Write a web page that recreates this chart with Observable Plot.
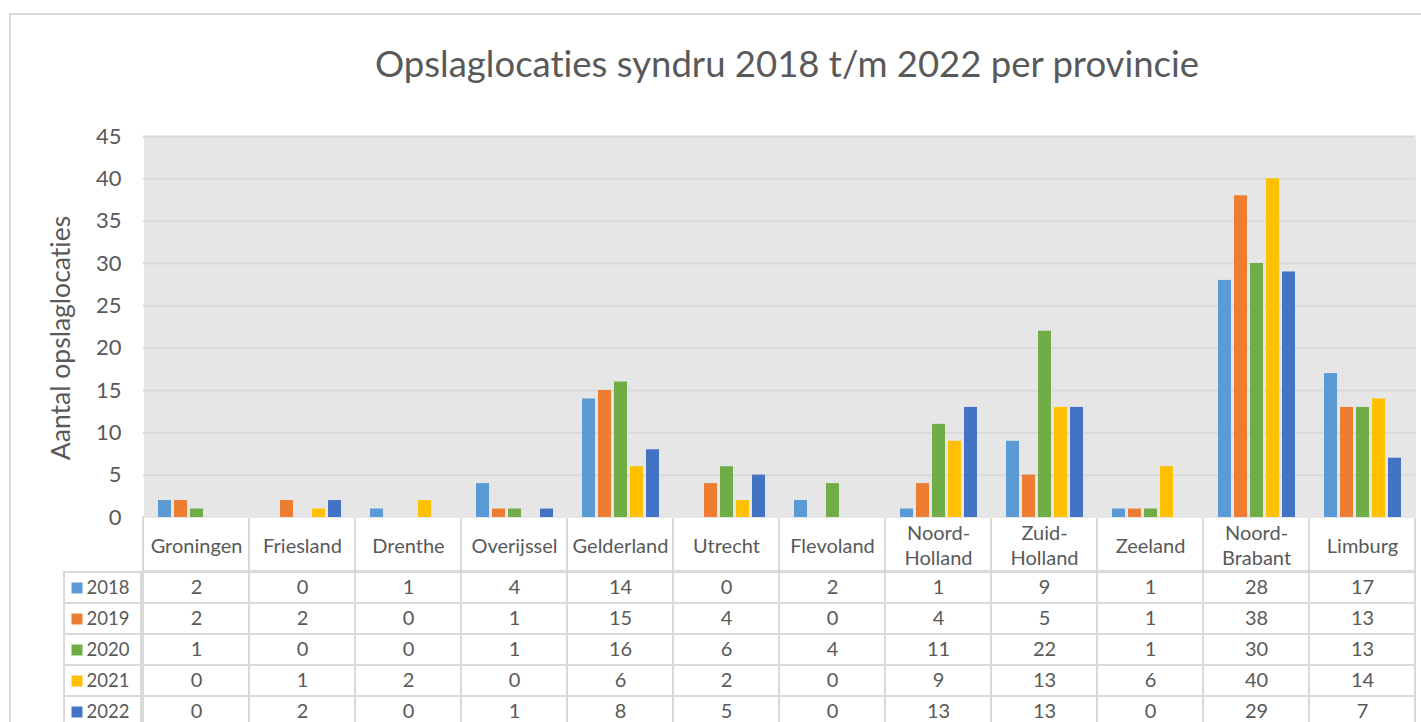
<!DOCTYPE html>
<html>
<head>
<meta charset="utf-8">
<script src="https://cdn.jsdelivr.net/npm/d3@7"></script>
<script src="https://cdn.jsdelivr.net/npm/@observablehq/plot@0.6"></script>
<style>
  html, body { margin: 0; padding: 0; background: #fff; overflow: hidden; }
  #wrap { position: relative; width: 1421px; height: 722px; overflow: hidden; font-family: Lato, "Open Sans", sans-serif; color: #595959; }
  #wrap svg, #wrap text { font-variant-ligatures: none; font-feature-settings: "liga" 0; }
  #border { position: absolute; left: 9px; top: 13px; width: 1430px; height: 740px; border-left: 2px solid #d9d9d9; border-top: 2px solid #d9d9d9; }
  .abs { position: absolute; }
</style>
</head>
<body>
<div id="wrap">
  <div id="border"></div>
  <div id="header" class="abs" style="left:0;top:516px"></div>
  <div id="rows" class="abs" style="left:0;top:569px"></div>
  <div id="legend" class="abs" style="left:63px;top:569px"></div>
  <div id="main" class="abs" style="left:0;top:0"></div>
  <svg class="abs" style="left:0;top:0" width="1421" height="722">
    <text x="787" y="77" text-anchor="middle" font-family="Lato" font-size="36.5" fill="#595959">Opslaglocaties syndru 2018 t/m 2022 per provincie</text>
    <text transform="translate(70,338) rotate(-90)" text-anchor="middle" font-family="Lato" font-size="26.5" fill="#595959">Aantal opslaglocaties</text>
  </svg>
</div>
<script>
const provinces = ["Groningen","Friesland","Drenthe","Overijssel","Gelderland","Utrecht","Flevoland","Noord-Holland","Zuid-Holland","Zeeland","Noord-Brabant","Limburg"];
const headerLabels = ["Groningen","Friesland","Drenthe","Overijssel","Gelderland","Utrecht","Flevoland","Noord-\nHolland","Zuid-\nHolland","Zeeland","Noord-\nBrabant","Limburg"];
const years = ["2018","2019","2020","2021","2022"];
const v2018 = [2,0,1,4,14,0,2,1,9,1,28,17];
const v2019 = [2,2,0,1,15,4,0,4,5,1,38,13];
const v2020 = [1,0,0,1,16,6,4,11,22,1,30,13];
const v2021 = [0,1,2,0,6,2,0,9,13,6,40,14];
const v2022 = [0,2,0,1,8,5,0,13,13,0,29,7];
const colors = ["#5b9bd5","#ed7d31","#70ad47","#ffc000","#4472c4"];
const yTicks = [0,5,10,15,20,25,30,35,40,45];

const series = [v2018, v2019, v2020, v2021, v2022];
const data = [];
provinces.forEach((p, i) => years.forEach((y, j) => data.push({province: p, year: y, value: series[j][i]})));

const grid = "#d9d9d9";
const font = {fontFamily: "Lato, 'Open Sans', sans-serif", fontSize: "20px", color: "#595959", background: "transparent", overflow: "visible"};

const main = Plot.plot({
  width: 1421, height: 530,
  marginTop: 136, marginBottom: 13, marginLeft: 140, marginRight: 4,
  style: {...font, fontSize: "22px"},
  fx: {domain: provinces, padding: 0, axis: null},
  x: {domain: years, paddingInner: 0.2, paddingOuter: 0.86, axis: null},
  y: {domain: [0, 45], ticks: yTicks, tickSize: 0, tickPadding: 22, label: null},
  color: {domain: years, range: colors},
  marks: [
    Plot.frame({fill: "#e6e6e6", stroke: "none", shapeRendering: "crispEdges"}),
    Plot.ruleY(yTicks.filter(t => t > 0), {stroke: grid, strokeWidth: 2}),
    Plot.barY(data, {fx: "province", x: "year", y: "value", fill: "year"})
  ]
});
document.getElementById("main").append(main);

const header = Plot.plot({
  width: 1421, height: 55,
  marginTop: 1, marginBottom: 0, marginLeft: 140, marginRight: 4,
  style: font,
  x: {domain: provinces, padding: 0, axis: null},
  marks: [
    Plot.cell(provinces, {x: d => d, fill: "white", stroke: grid, strokeWidth: 2, inset: 0}),
    Plot.text(provinces, {x: d => d, text: (d, i) => headerLabels[i], fill: "#595959", lineHeight: 1.25, frameAnchor: "middle"})
  ]
});
document.getElementById("header").append(header);

const rows = Plot.plot({
  width: 1421, height: 160,
  marginTop: 1, marginBottom: 0, marginLeft: 140, marginRight: 4,
  style: font,
  x: {domain: provinces, padding: 0, axis: null},
  y: {domain: years, padding: 0, axis: null},
  marks: [
    Plot.cell(data, {x: "province", y: "year", fill: "white", stroke: grid, strokeWidth: 2, inset: 0}),
    Plot.text(data, {x: "province", y: "year", text: d => String(d.value), fill: "#595959"})
  ]
});
document.getElementById("rows").append(rows);

const legend = Plot.plot({
  width: 78, height: 160,
  marginTop: 1, marginBottom: 0, marginLeft: 1, marginRight: 0,
  style: {...font, fontSize: "18.5px"},
  y: {domain: years, padding: 0, axis: null},
  color: {domain: years, range: colors},
  marks: [
    Plot.cell(years, {y: d => d, fill: "white", stroke: grid, strokeWidth: 2, inset: 0}),
    Plot.dot(years, {y: d => d, fill: d => d, symbol: "square", r: 6.2, frameAnchor: "left", dx: 12.5}),
    Plot.text(years, {y: d => d, text: d => d, frameAnchor: "left", dx: 22, textAnchor: "start", fill: "#595959"})
  ]
});
document.getElementById("legend").append(legend);
</script>
</body>
</html>
